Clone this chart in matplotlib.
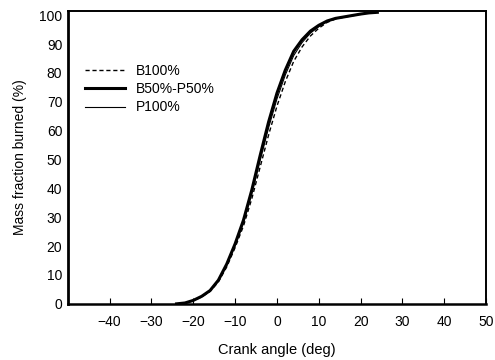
import matplotlib.pyplot as plt

plt.rcParams['font.family'] = ['Liberation Sans', 'DejaVu Sans']

# crank angle (deg) and mass fraction burned (%)
crank_b100 = [-24, -22, -20, -18, -16, -14, -12, -10, -8, -6, -4, -2, 0, 2, 4, 6, 8, 10, 12, 14, 16, 18, 20, 22, 24]
mfb_b100 = [0, 0.3, 1.1, 2.4, 4.3, 7.6, 12.8, 19.5, 27.0, 36.5, 47.5, 58.5, 68.5, 77.0, 84.0, 89.0, 92.8, 95.5, 97.5, 98.7, 99.3, 99.8, 100.3, 100.8, 101.0]

crank_b50p50 = [-24, -22, -20, -18, -16, -14, -12, -10, -8, -6, -4, -2, 0, 2, 4, 6, 8, 10, 12, 14, 16, 18, 20, 22, 24]
mfb_b50p50 = [0, 0.3, 1.2, 2.6, 4.6, 8.2, 13.8, 20.8, 29.0, 39.5, 51.5, 63.0, 73.0, 81.0, 87.5, 91.5, 94.5, 96.5, 98.0, 98.9, 99.4, 99.9, 100.4, 100.8, 101.0]

crank_p100 = [-24, -22, -20, -18, -16, -14, -12, -10, -8, -6, -4, -2, 0, 2, 4, 6, 8, 10, 12, 14, 16, 18, 20, 22, 24]
mfb_p100 = [0, 0.3, 1.2, 2.5, 4.5, 8.0, 13.4, 20.2, 28.2, 38.2, 49.8, 61.0, 71.0, 79.3, 86.0, 90.5, 93.8, 96.0, 97.8, 98.8, 99.4, 99.9, 100.4, 100.8, 101.0]

x_ticks = [-40, -30, -20, -10, 0, 10, 20, 30, 40, 50]
y_ticks = [0, 10, 20, 30, 40, 50, 60, 70, 80, 90, 100]

fig = plt.figure(figsize=(4.95, 3.6), dpi=100)
ax = fig.add_axes([0.137, 0.156, 0.845, 0.813])

ax.plot(crank_b100, mfb_b100, color='black', linestyle=(0, (3, 2)), linewidth=1.0, label='B100%')
ax.plot(crank_b50p50, mfb_b50p50, color='black', linestyle='-', linewidth=2.2, label='B50%-P50%')
ax.plot(crank_p100, mfb_p100, color='black', linestyle='-', linewidth=0.8, label='P100%')

ax.set_xlim(-50, 50)
ax.set_ylim(0, 101.4)
ax.set_xticks(x_ticks)
ax.set_yticks(y_ticks)
ax.tick_params(axis='x', direction='in', length=4, labelsize=10, pad=8)
ax.tick_params(axis='y', direction='in', length=0, labelsize=10, pad=4)
for side in ax.spines:
    ax.spines[side].set_linewidth(1.4)
ax.spines['left'].set_linewidth(2.0)
ax.spines['bottom'].set_linewidth(1.8)

ax.set_xlabel('Crank angle (deg)', fontsize=10.5, labelpad=10)
ax.set_ylabel('Mass fraction burned (%)', fontsize=10, labelpad=9)

ax.legend(loc='upper left', bbox_to_anchor=(0.011, 0.862), frameon=False, fontsize=10,
          handlelength=2.9, handletextpad=0.8, labelspacing=0.3)

fig.savefig('out.png', dpi=100)
